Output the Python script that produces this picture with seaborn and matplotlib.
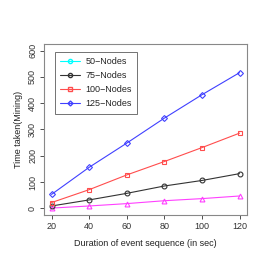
import numpy as np
import pandas as pd
import matplotlib
matplotlib.use('Agg')
import matplotlib.pyplot as plt
import seaborn as sns
from matplotlib.lines import Line2D

duration = [20, 40, 60, 80, 100, 120]
nodes_50 = [1, 9, 18, 29, 37, 47]
nodes_75 = [9, 32, 57, 85, 106, 132]
nodes_100 = [22, 71, 127, 178, 231, 286]
nodes_125 = [53, 156, 248, 343, 432, 516]

sns.set_style("white")
plt.rcParams['font.family'] = ['Liberation Sans', 'DejaVu Sans']

fig = plt.figure(figsize=(2.7, 2.7), dpi=100)
ax = fig.add_axes([0.163, 0.204, 0.752, 0.633])

series = [
    (nodes_50, '#ff40ff', '^'),
    (nodes_75, '#333333', 'o'),
    (nodes_100, '#ff4d4d', 's'),
    (nodes_125, '#4040ff', 'D'),
]
for vals, col, mk in series:
    sns.lineplot(x=duration, y=vals, ax=ax, color=col, marker=mk,
                 markersize=3.5 if mk != 'D' else 3, markerfacecolor='none',
                 markeredgecolor=col, markeredgewidth=0.8, linewidth=0.8)

ax.set_xlim(16, 124)
ax.set_ylim(-25, 625)
ax.set_xticks(duration)
ax.set_yticks([0, 100, 200, 300, 400, 500, 600])
ax.tick_params(axis='both', labelsize=6.5, length=3, width=0.6, direction='out',
               colors='#333333', bottom=True, left=True, pad=2)
for lbl in ax.get_yticklabels():
    lbl.set_rotation(90)
    lbl.set_va('center')
for s in ax.spines.values():
    s.set_color('#888888')
    s.set_linewidth(0.8)

ax.set_xlabel('Duration of event sequence (in sec)', fontsize=6.5, color='#222222', labelpad=6)
ax.set_ylabel('Time taken(Mining)', fontsize=6.5, color='#222222', labelpad=4)

handles = [
    Line2D([], [], color='cyan', marker='o', markerfacecolor='none', markersize=3, lw=0.8),
    Line2D([], [], color='#333333', marker='o', markerfacecolor='none', markersize=3, lw=0.8),
    Line2D([], [], color='#ff4d4d', marker='s', markerfacecolor='none', markersize=3, lw=0.8),
    Line2D([], [], color='#4040ff', marker='D', markerfacecolor='none', markersize=2.5, lw=0.8),
]
leg = ax.legend(handles, ['50\u2212Nodes', '75\u2212Nodes', '100\u2212Nodes', '125\u2212Nodes'],
                loc='upper left', bbox_to_anchor=(0.04, 0.97), fontsize=6.5, frameon=True,
                fancybox=False, edgecolor='#333333', handlelength=2.2, labelspacing=0.55,
                borderpad=0.6, handletextpad=0.6, borderaxespad=0.3)
leg.get_frame().set_linewidth(0.6)

fig.savefig('out.png', dpi=100)
